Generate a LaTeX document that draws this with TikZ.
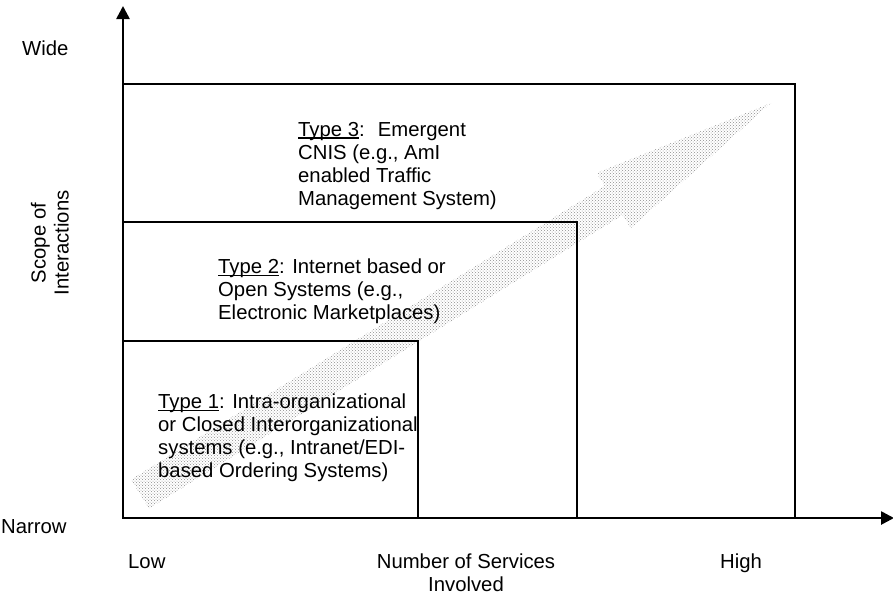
\documentclass[tikz,border=0pt]{standalone}
\usepackage{fontspec}
\setmainfont{Liberation Sans}
\usetikzlibrary{arrows.meta,patterns}
\newcommand{\myul}[1]{\setbox0\hbox{#1}\rlap{\rule[-2.3pt]{\wd0}{1.2pt}}\box0}
\begin{document}
\begin{tikzpicture}[x=1pt,y=-1pt,
  lbl/.style={inner sep=0pt, font=\fontsize{20.3}{23}\selectfont},
  box/.style={draw=black, line width=1.6pt},
  axis/.style={line width=2.6pt, -{Triangle[length=13pt,width=13pt]}},
  bigarrow/.style={pattern=crosshatch dots, pattern color=gray!90}]
\useasboundingbox (0,0) rectangle (893,598);
% big hatched arrow
\fill[bigarrow] (131.0,479.5) -- (604.7,186.0) -- (596.6,172.9) -- (771,103)
   -- (630.8,228.1) -- (622.7,215.0) -- (149.0,508.5) -- cycle;
% boxes
\draw[box] (123,84) rectangle (795,518);
\draw[box] (123,222) rectangle (577,518);
\draw[box] (123,341) rectangle (418,518);
% axes
\coordinate (O) at (123,518);
\coordinate (Ytop) at (123,6);
\coordinate (Xend) at (894,518);
\draw[axis] (O) -- (Ytop);
\draw[axis] (O) -- (Xend);
% texts
\node[lbl, anchor=north west, align=left] (t3) at (298,122)
  {\myul{Type 3}:~ Emergent\\CNIS (e.g., AmI\\enabled Traffic\\Management System)};
\node[lbl, anchor=north west, align=left] (t2) at (218,259)
  {\myul{Type 2}: Internet based or\\Open Systems (e.g.,\\Electronic Marketplaces)};
\node[lbl, anchor=north west, align=left] (t1) at (158,394)
  {\myul{Type 1}: Intra-organizational\\or Closed Interorganizational\\systems (e.g., Intranet/EDI-\\based Ordering Systems)};
\node[lbl, anchor=base west] (wide) at (22,55) {Wide};
\node[lbl, anchor=base west] (narrow) at (1,533) {Narrow};
\node[lbl, rotate=90, align=center] (scope) at (50,243) {Scope of\\Interactions};
\node[lbl, anchor=base west] (low) at (128,568) {Low};
\node[lbl, anchor=north, align=center] (num) at (466,554) {Number of Services\\Involved};
\node[lbl, anchor=base west] (high) at (720,568) {High};
\end{tikzpicture}
\end{document}
